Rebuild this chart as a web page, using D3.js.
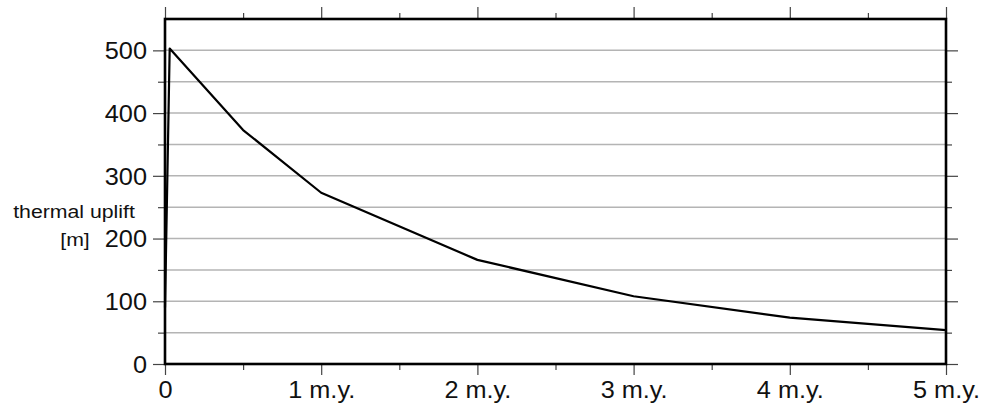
<!DOCTYPE html>
<html><head><meta charset="utf-8">
<script src="https://cdn.jsdelivr.net/npm/d3@7"></script>
<style>
html,body{margin:0;padding:0;background:#fff;}
svg{display:block;font-family:"Liberation Sans",Arial,Helvetica,sans-serif;}
</style></head>
<body>
<svg id="chart" width="989" height="417"></svg>
<script>
// Data (time in million years, uplift in metres)
const timeMy = [0.0, 0.03, 0.5, 1, 2, 3, 4, 5];
const upliftM = [90, 503, 373, 273, 166, 108, 74, 54];
const xMajorTicks = [0, 1, 2, 3, 4, 5];
const xMinorTicks = [0.5, 1.5, 2.5, 3.5, 4.5];
const xTickLabels = ["0", "1 m.y.", "2 m.y.", "3 m.y.", "4 m.y.", "5 m.y."];
const yMajorTicks = [0, 100, 200, 300, 400, 500];
const yMinorTicks = [50, 150, 250, 350, 450];
const yGridLines = [50, 100, 150, 200, 250, 300, 350, 400, 450, 500];
const yTitle = ["thermal uplift", "[m]"];

const svg = d3.select("#chart");
const L = 165, R = 946, T = 19, B = 364;
const x = d3.scaleLinear().domain([0, 5]).range([L, R]);
const y = d3.scaleLinear().domain([0, 550]).range([B, T]);
const SX = 1.1;

// gridlines
svg.append("g").selectAll("line").data(yGridLines).join("line")
  .attr("x1", L).attr("x2", R).attr("y1", d => y(d)).attr("y2", d => y(d))
  .attr("stroke", "#b4b4b4").attr("stroke-width", 1.5);

function styleTicks(g){ g.select(".domain").remove(); g.selectAll("line").attr("stroke","#444").attr("stroke-width",1.2); }

// left axis
const gl = svg.append("g").attr("transform", `translate(${L},0)`)
  .call(d3.axisLeft(y).tickValues(yMajorTicks).tickSize(12).tickPadding(6).tickFormat(d3.format("d")));
styleTicks(gl);
gl.selectAll("text").attr("font-size", 23).attr("fill", "#111").attr("dy", "0.36em")
  .attr("x", null).attr("transform", `translate(-18,0) scale(${SX},1)`).attr("font-family", null);
svg.append("g").attr("transform", `translate(${L},0)`)
  .call(d3.axisLeft(y).tickValues(yMinorTicks).tickSize(7).tickFormat("")).call(styleTicks);

// right axis
svg.append("g").attr("transform", `translate(${R},0)`)
  .call(d3.axisRight(y).tickValues(yMajorTicks).tickSize(12).tickFormat("")).call(styleTicks);
svg.append("g").attr("transform", `translate(${R},0)`)
  .call(d3.axisRight(y).tickValues(yMinorTicks).tickSize(6).tickFormat("")).call(styleTicks);

// bottom axis
const gb = svg.append("g").attr("transform", `translate(0,${B})`)
  .call(d3.axisBottom(x).tickValues(xMajorTicks).tickSize(11).tickPadding(6)
    .tickFormat((d, i) => xTickLabels[i]));
styleTicks(gb);
gb.selectAll("text").attr("font-size", 23).attr("fill", "#111").attr("y", null).attr("dy", null)
  .attr("transform", `translate(0,34) scale(${SX},1)`).attr("font-family", null);
svg.append("g").attr("transform", `translate(0,${B})`)
  .call(d3.axisBottom(x).tickValues(xMinorTicks).tickSize(6).tickFormat("")).call(styleTicks);

// top axis
svg.append("g").attr("transform", `translate(0,${T})`)
  .call(d3.axisTop(x).tickValues(xMajorTicks).tickSize(12).tickFormat("")).call(styleTicks);
svg.append("g").attr("transform", `translate(0,${T})`)
  .call(d3.axisTop(x).tickValues(xMinorTicks).tickSize(6).tickFormat("")).call(styleTicks);

// curve
const line = d3.line().x((d, i) => x(timeMy[i])).y(d => y(d));
svg.append("path").datum(upliftM).attr("d", line)
  .attr("fill", "none").attr("stroke", "#000").attr("stroke-width", 2.2).attr("stroke-linejoin", "round");

// frame
svg.append("rect").attr("x", L).attr("y", T).attr("width", R - L).attr("height", B - T)
  .attr("fill", "none").attr("stroke", "#000").attr("stroke-width", 2.6);

// y title
svg.append("text").attr("transform", `translate(74,218) scale(1.15,1)`).attr("text-anchor", "middle")
  .attr("font-size", 18.5).attr("fill", "#111").text(yTitle[0]);
svg.append("text").attr("transform", `translate(75,246) scale(1.15,1)`).attr("text-anchor", "middle")
  .attr("font-size", 18.5).attr("fill", "#111").text(yTitle[1]);
</script>
</body></html>
